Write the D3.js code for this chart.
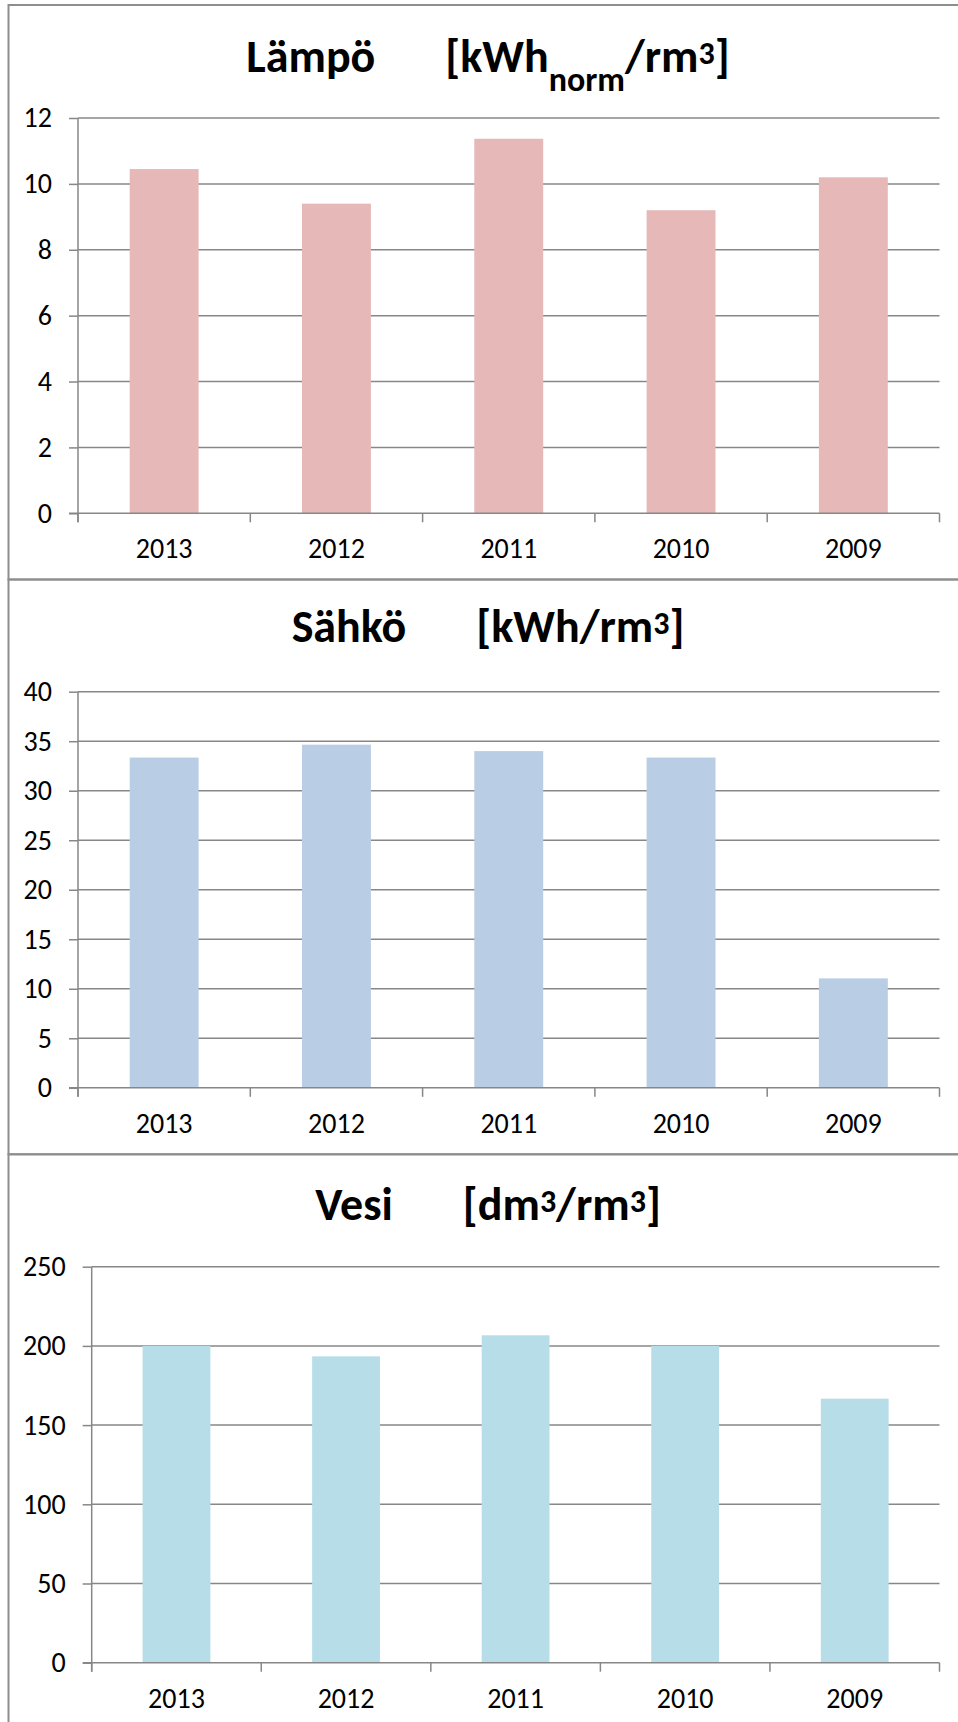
<!DOCTYPE html>
<html>
<head>
<meta charset="utf-8">
<script src="https://cdn.jsdelivr.net/npm/d3@7"></script>
<style>
  body { margin: 0; background: #fff; }
  svg { display: block; font-family: Carlito, Calibri, Lato, sans-serif; }
</style>
</head>
<body>
<svg id="vis" width="958" height="1722"></svg>
<script>
// Datos
const vuodet = ["2013", "2012", "2011", "2010", "2009"];
const lampo = [10.45, 9.4, 11.37, 9.2, 10.2];
const sahko = [33.35, 34.65, 34.0, 33.35, 11.05];
const vesi = [200, 193.4, 206.7, 200, 166.7];

const lampoTicks = [0, 2, 4, 6, 8, 10, 12];
const sahkoTicks = [0, 5, 10, 15, 20, 25, 30, 35, 40];
const vesiTicks = [0, 50, 100, 150, 200, 250];

// otsikon osat: n = normaali, sub = alaindeksi, sup = yläindeksi
const lampoTitle = [["n", "Lämpö"], ["gap", "[kWh"], ["sub", "norm"], ["n", "/rm"], ["sup", "3"], ["n", "]"]];
const sahkoTitle = [["n", "Sähkö"], ["gap", "[kWh/rm"], ["sup", "3"], ["n", "]"]];
const vesiTitle = [["n", "Vesi"], ["gap", "[dm"], ["sup", "3"], ["n", "/rm"], ["sup", "3"], ["n", "]"]];

const SVG = d3.select("#vis");
const GRID = "#878787";
const FONT = "Carlito, Calibri, Lato, sans-serif";

function piirra(c) {
  const g = SVG.append("g");

  // kehys
  g.append("rect")
    .attr("x", 8.5).attr("y", c.top)
    .attr("width", 1000).attr("height", c.bottom - c.top)
    .attr("fill", "none").attr("stroke", "#8e8e8e").attr("stroke-width", 2);

  // otsikko
  const shift = { n: 0, gap: 0, sub: 19, sup: -8 };
  const size = { n: 46, gap: 46, sub: 34, sup: 32 };
  const t = g.append("text")
    .attr("x", 488).attr("y", c.titleY)
    .attr("text-anchor", "middle")
    .attr("font-weight", "bold")
    .attr("fill", "#000");
  let cur = 0;
  c.title.forEach(([k, s]) => {
    t.append("tspan")
      .attr("dx", k === "gap" ? 70 : null)
      .attr("dy", shift[k] - cur)
      .attr("font-size", size[k])
      .text(s);
    cur = shift[k];
  });

  const x = d3.scaleBand()
    .domain(vuodet)
    .range([c.left, 939.5])
    .paddingInner(0.6)
    .paddingOuter(0.3);
  const y = d3.scaleLinear()
    .domain([0, d3.max(c.ticks)])
    .range([c.plotBottom, c.plotTop]);

  // ruudukko
  g.selectAll(".grid")
    .data(c.ticks.filter(d => d > 0))
    .join("line")
    .attr("class", "grid")
    .attr("x1", c.left).attr("x2", 939.5)
    .attr("y1", d => y(d)).attr("y2", d => y(d))
    .attr("stroke", GRID).attr("stroke-width", 1.5);

  // pylväät
  g.selectAll(".bar")
    .data(c.values)
    .join("rect")
    .attr("class", "bar")
    .attr("x", (d, i) => x(vuodet[i]))
    .attr("width", x.bandwidth())
    .attr("y", d => y(d))
    .attr("height", d => y(0) - y(d))
    .attr("fill", c.color);

  // y-akseli
  const ya = g.append("g")
    .attr("transform", `translate(${c.left},0)`)
    .call(d3.axisLeft(y).tickValues(c.ticks).tickSize(9).tickPadding(17).tickSizeOuter(0));
  ya.select(".domain").remove();
  ya.selectAll("line").attr("stroke", GRID).attr("stroke-width", 1.5);
  ya.selectAll("text").attr("font-size", 28).attr("fill", "#000").attr("font-family", FONT);
  g.append("line")
    .attr("x1", c.left).attr("x2", c.left)
    .attr("y1", c.plotTop).attr("y2", c.plotBottom + 9)
    .attr("stroke", GRID).attr("stroke-width", 1.5);

  // x-akseli
  g.append("line")
    .attr("x1", c.left - 9).attr("x2", 939.5)
    .attr("y1", c.plotBottom).attr("y2", c.plotBottom)
    .attr("stroke", GRID).attr("stroke-width", 1.5);
  g.selectAll(".xtick")
    .data(d3.range(vuodet.length + 1))
    .join("line")
    .attr("class", "xtick")
    .attr("x1", i => c.left + i * x.step()).attr("x2", i => c.left + i * x.step())
    .attr("y1", c.plotBottom).attr("y2", c.plotBottom + 9)
    .attr("stroke", GRID).attr("stroke-width", 1.5);
  const xa = g.append("g")
    .attr("transform", `translate(0,${c.plotBottom})`)
    .call(d3.axisBottom(x).tickSize(0).tickPadding(25));
  xa.select(".domain").remove();
  xa.selectAll("text").attr("font-size", 28).attr("fill", "#000").attr("font-family", FONT);
}

piirra({ top: 5, bottom: 579.5, titleY: 71.7, plotTop: 118, plotBottom: 513.3, left: 78,
  values: lampo, ticks: lampoTicks, color: "#E6B9B8", title: lampoTitle });
piirra({ top: 579.5, bottom: 1154.3, titleY: 641.7, plotTop: 691.7, plotBottom: 1087.8, left: 78,
  values: sahko, ticks: sahkoTicks, color: "#B9CDE5", title: sahkoTitle });
piirra({ top: 1154.3, bottom: 1760, titleY: 1220, plotTop: 1266.7, plotBottom: 1662.7, left: 91.7,
  values: vesi, ticks: vesiTicks, color: "#B7DEE8", title: vesiTitle });
</script>
</body>
</html>
